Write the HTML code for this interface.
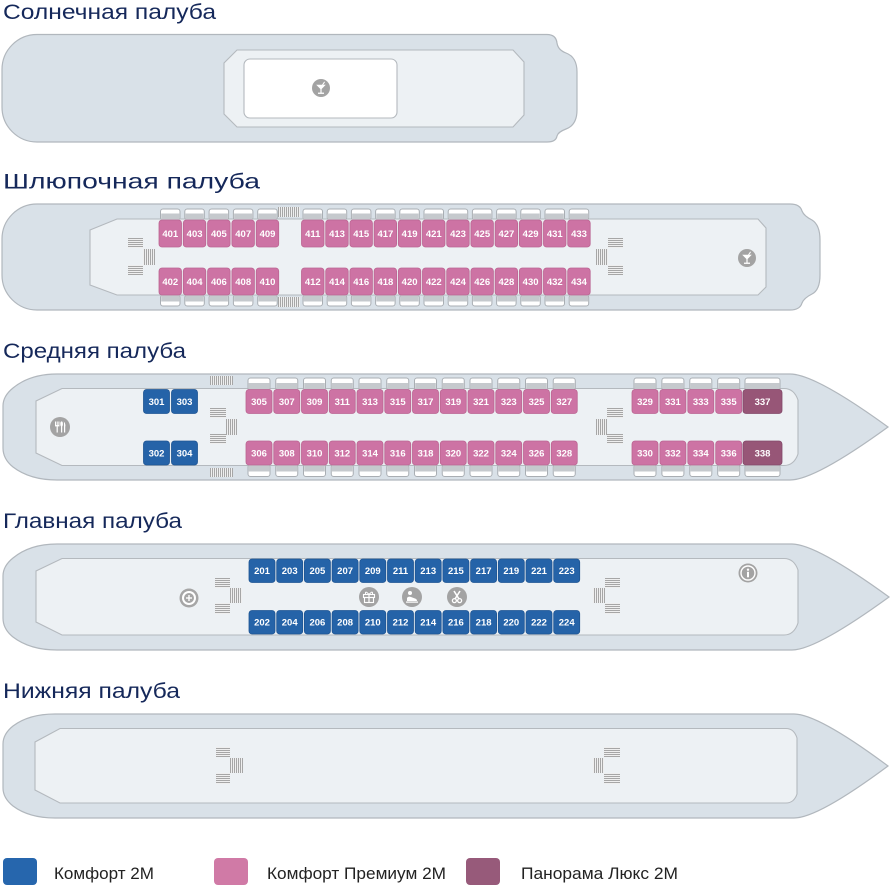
<!DOCTYPE html>
<html><head><meta charset="utf-8">
<style>
html,body{margin:0;padding:0;background:#fff;}
svg{display:block;}
.t{font-family:"Liberation Sans","DejaVu Sans",sans-serif;font-size:21px;fill:#15285a;}
.c{font-family:"Liberation Sans","DejaVu Sans",sans-serif;font-size:9.5px;font-weight:bold;fill:#fff;text-anchor:middle;}
.lg{font-family:"Liberation Sans","DejaVu Sans",sans-serif;font-size:16.5px;fill:#222;}
.hull{fill:#d9e1e8;stroke:#b1b7bd;stroke-width:1.2;}
.inner{fill:#edf1f4;stroke:#b4b9be;stroke-width:1.1;}
.b{fill:#2563a8;stroke:#1f5593;stroke-width:.8;}
.p{fill:#cd73a4;stroke:#bb6592;stroke-width:.8;}
.d{fill:#975677;stroke:#82496a;stroke-width:.8;}
.hs{fill:url(#hs);}
.vs{fill:url(#vs);}
</style></head>
<body>
<svg width="890" height="888" viewBox="0 0 890 888" xmlns="http://www.w3.org/2000/svg">
<defs>
<pattern id="hs" patternUnits="userSpaceOnUse" width="4" height="2"><rect width="4" height="2" fill="#efefef"/><rect width="4" height="1" fill="#a6a6a6"/></pattern>
<pattern id="vs" patternUnits="userSpaceOnUse" width="2" height="4"><rect width="2" height="4" fill="#efefef"/><rect width="1" height="4" fill="#a6a6a6"/></pattern>
<g id="bt1"><rect x="0.5" y="0.5" width="19.5" height="11" rx="2.5" fill="#fff" stroke="#a9aeb3"/><rect x="1.2" y="5" width="18.1" height="6.5" fill="#c5c9cd"/></g>
<g id="bb1"><rect x="0.5" y="0.5" width="19.5" height="11" rx="2.5" fill="#fff" stroke="#a9aeb3"/><rect x="1.2" y="0.5" width="18.1" height="6.5" fill="#c5c9cd"/></g>
<g id="bt2"><rect x="0.5" y="0.5" width="22" height="12" rx="2.5" fill="#fff" stroke="#a9aeb3"/><rect x="1.2" y="5.5" width="20.6" height="7" fill="#c5c9cd"/></g>
<g id="bb2"><rect x="0.5" y="0.5" width="22" height="12" rx="2.5" fill="#fff" stroke="#a9aeb3"/><rect x="1.2" y="0.5" width="20.6" height="7" fill="#c5c9cd"/></g>
<g id="bt3"><rect x="0.5" y="0.5" width="35" height="12" rx="2.5" fill="#fff" stroke="#a9aeb3"/><rect x="1.2" y="5.5" width="33.6" height="7" fill="#c5c9cd"/></g>
<g id="bb3"><rect x="0.5" y="0.5" width="35" height="12" rx="2.5" fill="#fff" stroke="#a9aeb3"/><rect x="1.2" y="0.5" width="33.6" height="7" fill="#c5c9cd"/></g>
<g id="cocktail"><circle r="9" fill="#a3a3a3"/><path d="M-4.8,-3.2 H4.8 L0,1.6 Z" fill="#fff"/><rect x="-0.6" y="1" width="1.2" height="4" fill="#fff"/><rect x="-3" y="4.6" width="6" height="1.3" fill="#fff"/><line x1="0.8" y1="-2" x2="3.6" y2="-6.2" stroke="#fff" stroke-width="1"/></g>
</defs>

<!-- ===== Солнечная палуба ===== -->
<text class="t" x="3" y="19" textLength="213" lengthAdjust="spacingAndGlyphs">Солнечная палуба</text>
<path class="hull" d="M37,34.5 H547 Q556,34.5 557,43 Q558,50 566,53 Q577,57 577,72 V110 Q577,125 566,129 Q558,132 557,136 Q556,142 547,142 H37 A35,35 0 0 1 2,107 V69.5 A35,35 0 0 1 37,34.5 Z"/>
<path class="inner" d="M237,50 H513 L524,62 V115 L513,127 H237 L224,114 V63 Z"/>
<rect x="244" y="59" width="153" height="59" rx="6" fill="#fff" stroke="#b4b9be" stroke-width="1.1"/>
<use href="#cocktail" x="321" y="88"/>

<!-- ===== Шлюпочная палуба ===== -->
<text class="t" x="3" y="188.5" textLength="257" lengthAdjust="spacingAndGlyphs">Шлюпочная палуба</text>
<path class="hull" d="M37,204 H790 Q800,204 802,211 Q804,216 812,220 Q820,225 820,240 V275 Q820,290 812,294 Q804,298 802,303 Q800,310 790,310 H37 A35,35 0 0 1 2,275 V239 A35,35 0 0 1 37,204 Z"/>
<path class="inner" d="M117,219 H758 L766,228 V287 L758,295 H117 L90,285 V230 Z"/>
<rect class="vs" x="278" y="207" width="22" height="10"/>
<rect class="vs" x="278" y="297" width="22" height="10"/>
<use href="#bt1" x="160" y="208.5"/><use href="#bt1" x="184.3" y="208.5"/><use href="#bt1" x="208.6" y="208.5"/><use href="#bt1" x="232.9" y="208.5"/><use href="#bt1" x="257.2" y="208.5"/>
<use href="#bt1" x="302.5" y="208.5"/><use href="#bt1" x="326.7" y="208.5"/><use href="#bt1" x="350.9" y="208.5"/><use href="#bt1" x="375.1" y="208.5"/><use href="#bt1" x="399.3" y="208.5"/><use href="#bt1" x="423.5" y="208.5"/><use href="#bt1" x="447.7" y="208.5"/><use href="#bt1" x="471.9" y="208.5"/><use href="#bt1" x="496.1" y="208.5"/><use href="#bt1" x="520.3" y="208.5"/><use href="#bt1" x="544.5" y="208.5"/><use href="#bt1" x="568.7" y="208.5"/>
<use href="#bb1" x="160" y="294.5"/><use href="#bb1" x="184.3" y="294.5"/><use href="#bb1" x="208.6" y="294.5"/><use href="#bb1" x="232.9" y="294.5"/><use href="#bb1" x="257.2" y="294.5"/>
<use href="#bb1" x="302.5" y="294.5"/><use href="#bb1" x="326.7" y="294.5"/><use href="#bb1" x="350.9" y="294.5"/><use href="#bb1" x="375.1" y="294.5"/><use href="#bb1" x="399.3" y="294.5"/><use href="#bb1" x="423.5" y="294.5"/><use href="#bb1" x="447.7" y="294.5"/><use href="#bb1" x="471.9" y="294.5"/><use href="#bb1" x="496.1" y="294.5"/><use href="#bb1" x="520.3" y="294.5"/><use href="#bb1" x="544.5" y="294.5"/><use href="#bb1" x="568.7" y="294.5"/>
<g>
<rect class="p" x="159" y="220" width="22.5" height="27" rx="3"/><rect class="p" x="183.3" y="220" width="22.5" height="27" rx="3"/><rect class="p" x="207.6" y="220" width="22.5" height="27" rx="3"/><rect class="p" x="231.9" y="220" width="22.5" height="27" rx="3"/><rect class="p" x="256.2" y="220" width="22.5" height="27" rx="3"/>
<rect class="p" x="301.5" y="220" width="22.5" height="27" rx="3"/><rect class="p" x="325.7" y="220" width="22.5" height="27" rx="3"/><rect class="p" x="349.9" y="220" width="22.5" height="27" rx="3"/><rect class="p" x="374.1" y="220" width="22.5" height="27" rx="3"/><rect class="p" x="398.3" y="220" width="22.5" height="27" rx="3"/><rect class="p" x="422.5" y="220" width="22.5" height="27" rx="3"/><rect class="p" x="446.7" y="220" width="22.5" height="27" rx="3"/><rect class="p" x="470.9" y="220" width="22.5" height="27" rx="3"/><rect class="p" x="495.1" y="220" width="22.5" height="27" rx="3"/><rect class="p" x="519.3" y="220" width="22.5" height="27" rx="3"/><rect class="p" x="543.5" y="220" width="22.5" height="27" rx="3"/><rect class="p" x="567.7" y="220" width="22.5" height="27" rx="3"/>
</g>
<g>
<rect class="p" x="159" y="268" width="22.5" height="27" rx="3"/><rect class="p" x="183.3" y="268" width="22.5" height="27" rx="3"/><rect class="p" x="207.6" y="268" width="22.5" height="27" rx="3"/><rect class="p" x="231.9" y="268" width="22.5" height="27" rx="3"/><rect class="p" x="256.2" y="268" width="22.5" height="27" rx="3"/>
<rect class="p" x="301.5" y="268" width="22.5" height="27" rx="3"/><rect class="p" x="325.7" y="268" width="22.5" height="27" rx="3"/><rect class="p" x="349.9" y="268" width="22.5" height="27" rx="3"/><rect class="p" x="374.1" y="268" width="22.5" height="27" rx="3"/><rect class="p" x="398.3" y="268" width="22.5" height="27" rx="3"/><rect class="p" x="422.5" y="268" width="22.5" height="27" rx="3"/><rect class="p" x="446.7" y="268" width="22.5" height="27" rx="3"/><rect class="p" x="470.9" y="268" width="22.5" height="27" rx="3"/><rect class="p" x="495.1" y="268" width="22.5" height="27" rx="3"/><rect class="p" x="519.3" y="268" width="22.5" height="27" rx="3"/><rect class="p" x="543.5" y="268" width="22.5" height="27" rx="3"/><rect class="p" x="567.7" y="268" width="22.5" height="27" rx="3"/>
</g>
<g class="c">
<text x="170.3" y="237">401</text><text x="194.6" y="237">403</text><text x="218.9" y="237">405</text><text x="243.2" y="237">407</text><text x="267.5" y="237">409</text>
<text x="312.8" y="237">411</text><text x="337" y="237">413</text><text x="361.2" y="237">415</text><text x="385.4" y="237">417</text><text x="409.6" y="237">419</text><text x="433.8" y="237">421</text><text x="458" y="237">423</text><text x="482.2" y="237">425</text><text x="506.4" y="237">427</text><text x="530.6" y="237">429</text><text x="554.8" y="237">431</text><text x="579" y="237">433</text>
<text x="170.3" y="285">402</text><text x="194.6" y="285">404</text><text x="218.9" y="285">406</text><text x="243.2" y="285">408</text><text x="267.5" y="285">410</text>
<text x="312.8" y="285">412</text><text x="337" y="285">414</text><text x="361.2" y="285">416</text><text x="385.4" y="285">418</text><text x="409.6" y="285">420</text><text x="433.8" y="285">422</text><text x="458" y="285">424</text><text x="482.2" y="285">426</text><text x="506.4" y="285">428</text><text x="530.6" y="285">430</text><text x="554.8" y="285">432</text><text x="579" y="285">434</text>
</g>
<rect class="hs" x="128" y="238" width="15" height="10"/><rect class="vs" x="143" y="249" width="12" height="16"/><rect class="hs" x="128" y="265" width="15" height="10"/>
<rect class="hs" x="608" y="238" width="15" height="10"/><rect class="vs" x="596" y="249" width="12" height="16"/><rect class="hs" x="608" y="265" width="15" height="10"/>
<use href="#cocktail" x="747" y="258"/>

<!-- ===== Средняя палуба ===== -->
<text class="t" x="3" y="358" textLength="183" lengthAdjust="spacingAndGlyphs">Средняя палуба</text>
<path class="hull" d="M57,374 H790 Q815,374 888,427 Q815,480 790,480 H57 Q30,480 13,467 Q3,459 3,448 V406 Q3,396 13,388 Q30,374 57,374 Z"/>
<path class="inner" d="M62,388.5 H784 Q794,388.5 798,400 V454 Q794,465.5 784,465.5 H62 L36,453 V401 Z"/>
<rect class="vs" x="210" y="376" width="23" height="9"/>
<rect class="vs" x="210" y="468" width="23" height="9"/>
<use href="#bt2" x="247.5" y="377.5"/><use href="#bt2" x="275.25" y="377.5"/><use href="#bt2" x="303" y="377.5"/><use href="#bt2" x="330.75" y="377.5"/><use href="#bt2" x="358.5" y="377.5"/><use href="#bt2" x="386.25" y="377.5"/><use href="#bt2" x="414" y="377.5"/><use href="#bt2" x="441.75" y="377.5"/><use href="#bt2" x="469.5" y="377.5"/><use href="#bt2" x="497.25" y="377.5"/><use href="#bt2" x="525" y="377.5"/><use href="#bt2" x="552.75" y="377.5"/>
<use href="#bt2" x="633.5" y="377.5"/><use href="#bt2" x="661.4" y="377.5"/><use href="#bt2" x="689.3" y="377.5"/><use href="#bt2" x="717.2" y="377.5"/><use href="#bt3" x="744.5" y="377.5"/>
<use href="#bb2" x="247.5" y="464"/><use href="#bb2" x="275.25" y="464"/><use href="#bb2" x="303" y="464"/><use href="#bb2" x="330.75" y="464"/><use href="#bb2" x="358.5" y="464"/><use href="#bb2" x="386.25" y="464"/><use href="#bb2" x="414" y="464"/><use href="#bb2" x="441.75" y="464"/><use href="#bb2" x="469.5" y="464"/><use href="#bb2" x="497.25" y="464"/><use href="#bb2" x="525" y="464"/><use href="#bb2" x="552.75" y="464"/>
<use href="#bb2" x="633.5" y="464"/><use href="#bb2" x="661.4" y="464"/><use href="#bb2" x="689.3" y="464"/><use href="#bb2" x="717.2" y="464"/><use href="#bb3" x="744.5" y="464"/>
<rect class="b" x="143.5" y="389.5" width="26" height="24" rx="3"/><rect class="b" x="171.5" y="389.5" width="26" height="24" rx="3"/>
<rect class="b" x="143.5" y="441" width="26" height="24" rx="3"/><rect class="b" x="171.5" y="441" width="26" height="24" rx="3"/>
<g>
<rect class="p" x="246" y="389.5" width="26" height="24" rx="3"/><rect class="p" x="273.75" y="389.5" width="26" height="24" rx="3"/><rect class="p" x="301.5" y="389.5" width="26" height="24" rx="3"/><rect class="p" x="329.25" y="389.5" width="26" height="24" rx="3"/><rect class="p" x="357" y="389.5" width="26" height="24" rx="3"/><rect class="p" x="384.75" y="389.5" width="26" height="24" rx="3"/><rect class="p" x="412.5" y="389.5" width="26" height="24" rx="3"/><rect class="p" x="440.25" y="389.5" width="26" height="24" rx="3"/><rect class="p" x="468" y="389.5" width="26" height="24" rx="3"/><rect class="p" x="495.75" y="389.5" width="26" height="24" rx="3"/><rect class="p" x="523.5" y="389.5" width="26" height="24" rx="3"/><rect class="p" x="551.25" y="389.5" width="26" height="24" rx="3"/>
<rect class="p" x="632" y="389.5" width="26" height="24" rx="3"/><rect class="p" x="659.9" y="389.5" width="26" height="24" rx="3"/><rect class="p" x="687.8" y="389.5" width="26" height="24" rx="3"/><rect class="p" x="715.7" y="389.5" width="26" height="24" rx="3"/>
<rect class="d" x="743" y="389.5" width="39" height="24" rx="3"/>
</g>
<g>
<rect class="p" x="246" y="441" width="26" height="24" rx="3"/><rect class="p" x="273.75" y="441" width="26" height="24" rx="3"/><rect class="p" x="301.5" y="441" width="26" height="24" rx="3"/><rect class="p" x="329.25" y="441" width="26" height="24" rx="3"/><rect class="p" x="357" y="441" width="26" height="24" rx="3"/><rect class="p" x="384.75" y="441" width="26" height="24" rx="3"/><rect class="p" x="412.5" y="441" width="26" height="24" rx="3"/><rect class="p" x="440.25" y="441" width="26" height="24" rx="3"/><rect class="p" x="468" y="441" width="26" height="24" rx="3"/><rect class="p" x="495.75" y="441" width="26" height="24" rx="3"/><rect class="p" x="523.5" y="441" width="26" height="24" rx="3"/><rect class="p" x="551.25" y="441" width="26" height="24" rx="3"/>
<rect class="p" x="632" y="441" width="26" height="24" rx="3"/><rect class="p" x="659.9" y="441" width="26" height="24" rx="3"/><rect class="p" x="687.8" y="441" width="26" height="24" rx="3"/><rect class="p" x="715.7" y="441" width="26" height="24" rx="3"/>
<rect class="d" x="743" y="441" width="39" height="24" rx="3"/>
</g>
<g class="c">
<text x="156.5" y="405">301</text><text x="184.5" y="405">303</text>
<text x="259" y="405">305</text><text x="286.75" y="405">307</text><text x="314.5" y="405">309</text><text x="342.25" y="405">311</text><text x="370" y="405">313</text><text x="397.75" y="405">315</text><text x="425.5" y="405">317</text><text x="453.25" y="405">319</text><text x="481" y="405">321</text><text x="508.75" y="405">323</text><text x="536.5" y="405">325</text><text x="564.25" y="405">327</text>
<text x="645" y="405">329</text><text x="672.9" y="405">331</text><text x="700.8" y="405">333</text><text x="728.7" y="405">335</text><text x="762.5" y="405">337</text>
<text x="156.5" y="456.5">302</text><text x="184.5" y="456.5">304</text>
<text x="259" y="456.5">306</text><text x="286.75" y="456.5">308</text><text x="314.5" y="456.5">310</text><text x="342.25" y="456.5">312</text><text x="370" y="456.5">314</text><text x="397.75" y="456.5">316</text><text x="425.5" y="456.5">318</text><text x="453.25" y="456.5">320</text><text x="481" y="456.5">322</text><text x="508.75" y="456.5">324</text><text x="536.5" y="456.5">326</text><text x="564.25" y="456.5">328</text>
<text x="645" y="456.5">330</text><text x="672.9" y="456.5">332</text><text x="700.8" y="456.5">334</text><text x="728.7" y="456.5">336</text><text x="762.5" y="456.5">338</text>
</g>
<rect class="hs" x="210" y="408" width="16" height="10"/><rect class="vs" x="226" y="419" width="11" height="16"/><rect class="hs" x="210" y="434" width="16" height="10"/>
<rect class="hs" x="607" y="408" width="16" height="10"/><rect class="vs" x="596" y="419" width="11" height="16"/><rect class="hs" x="607" y="434" width="16" height="10"/>
<g transform="translate(60,427)">
<circle r="10" fill="#a3a3a3"/>
<rect x="-5" y="-5.5" width="1" height="4" fill="#fff"/><rect x="-3.3" y="-5.5" width="1" height="4" fill="#fff"/><rect x="-1.6" y="-5.5" width="1" height="4" fill="#fff"/><rect x="-5" y="-2" width="4.4" height="1.4" fill="#fff"/><rect x="-3.4" y="-1" width="1.2" height="6.5" fill="#fff"/>
<ellipse cx="1.6" cy="-3" rx="1.3" ry="2.6" fill="#fff"/><rect x="1" y="-1" width="1.2" height="6.5" fill="#fff"/>
<path d="M3.8,-5.5 Q6,-3 5.2,0 L5.2,5.5 H4 V-5.5 Z" fill="#fff"/>
</g>

<!-- ===== Главная палуба ===== -->
<text class="t" x="3" y="528" textLength="179" lengthAdjust="spacingAndGlyphs">Главная палуба</text>
<path class="hull" d="M57,544 H792 Q816,544 889,597 Q816,650 792,650 H57 Q30,650 13,637 Q3,629 3,618 V576 Q3,566 13,558 Q30,544 57,544 Z"/>
<path class="inner" d="M62,558.5 H784 Q794,558.5 798,570 V623 Q794,635 784,635 H62 L36,622 V571 Z"/>
<g>
<rect class="b" x="249" y="559" width="26" height="23.5" rx="3"/><rect class="b" x="276.7" y="559" width="26" height="23.5" rx="3"/><rect class="b" x="304.4" y="559" width="26" height="23.5" rx="3"/><rect class="b" x="332.1" y="559" width="26" height="23.5" rx="3"/><rect class="b" x="359.8" y="559" width="26" height="23.5" rx="3"/><rect class="b" x="387.5" y="559" width="26" height="23.5" rx="3"/><rect class="b" x="415.2" y="559" width="26" height="23.5" rx="3"/><rect class="b" x="442.9" y="559" width="26" height="23.5" rx="3"/><rect class="b" x="470.6" y="559" width="26" height="23.5" rx="3"/><rect class="b" x="498.3" y="559" width="26" height="23.5" rx="3"/><rect class="b" x="526" y="559" width="26" height="23.5" rx="3"/><rect class="b" x="553.7" y="559" width="26" height="23.5" rx="3"/>
<rect class="b" x="249" y="610.5" width="26" height="23.5" rx="3"/><rect class="b" x="276.7" y="610.5" width="26" height="23.5" rx="3"/><rect class="b" x="304.4" y="610.5" width="26" height="23.5" rx="3"/><rect class="b" x="332.1" y="610.5" width="26" height="23.5" rx="3"/><rect class="b" x="359.8" y="610.5" width="26" height="23.5" rx="3"/><rect class="b" x="387.5" y="610.5" width="26" height="23.5" rx="3"/><rect class="b" x="415.2" y="610.5" width="26" height="23.5" rx="3"/><rect class="b" x="442.9" y="610.5" width="26" height="23.5" rx="3"/><rect class="b" x="470.6" y="610.5" width="26" height="23.5" rx="3"/><rect class="b" x="498.3" y="610.5" width="26" height="23.5" rx="3"/><rect class="b" x="526" y="610.5" width="26" height="23.5" rx="3"/><rect class="b" x="553.7" y="610.5" width="26" height="23.5" rx="3"/>
</g>
<g class="c">
<text x="262" y="574">201</text><text x="289.7" y="574">203</text><text x="317.4" y="574">205</text><text x="345.1" y="574">207</text><text x="372.8" y="574">209</text><text x="400.5" y="574">211</text><text x="428.2" y="574">213</text><text x="455.9" y="574">215</text><text x="483.6" y="574">217</text><text x="511.3" y="574">219</text><text x="539" y="574">221</text><text x="566.7" y="574">223</text>
<text x="262" y="625.5">202</text><text x="289.7" y="625.5">204</text><text x="317.4" y="625.5">206</text><text x="345.1" y="625.5">208</text><text x="372.8" y="625.5">210</text><text x="400.5" y="625.5">212</text><text x="428.2" y="625.5">214</text><text x="455.9" y="625.5">216</text><text x="483.6" y="625.5">218</text><text x="511.3" y="625.5">220</text><text x="539" y="625.5">222</text><text x="566.7" y="625.5">224</text>
</g>
<rect class="hs" x="215" y="578" width="15" height="10"/><rect class="vs" x="230" y="588" width="12" height="15"/><rect class="hs" x="215" y="603" width="15" height="11"/>
<rect class="hs" x="605" y="578" width="15" height="10"/><rect class="vs" x="593" y="588" width="12" height="15"/><rect class="hs" x="605" y="603" width="15" height="11"/>
<g transform="translate(189,598)">
<circle r="9.5" fill="#a6a6a6"/><circle r="7" fill="#fff"/><circle r="5" fill="#a6a6a6"/>
<rect x="-0.7" y="-3" width="1.4" height="6" fill="#fff"/><rect x="-3" y="-0.7" width="6" height="1.4" fill="#fff"/>
</g>
<g transform="translate(369,597)">
<circle r="10" fill="#a3a3a3"/>
<rect x="-5.5" y="-2.5" width="11" height="3" fill="none" stroke="#fff" stroke-width="1.1"/>
<rect x="-4.5" y="0.5" width="9" height="5" fill="none" stroke="#fff" stroke-width="1.1"/>
<rect x="-0.6" y="-2.5" width="1.2" height="8" fill="#fff"/>
<path d="M0,-2.5 Q-4,-7 -3.5,-3 M0,-2.5 Q4,-7 3.5,-3" fill="none" stroke="#fff" stroke-width="1"/>
</g>
<g transform="translate(412,597)">
<circle r="10" fill="#a3a3a3"/>
<circle cx="-2" cy="-4" r="2" fill="#fff"/>
<path d="M-5,4 L-5,1 Q-4,-1 -1,0 L3,1.5 Q5,2 5,4 Z" fill="#fff"/>
<rect x="-6" y="4.5" width="12" height="1.2" fill="#fff"/>
</g>
<g transform="translate(457,597)">
<circle r="10" fill="#a3a3a3"/>
<line x1="-3" y1="-6" x2="2" y2="2" stroke="#fff" stroke-width="1.6"/>
<line x1="3" y1="-6" x2="-2" y2="2" stroke="#fff" stroke-width="1.6"/>
<circle cx="-2.6" cy="3.6" r="2" fill="none" stroke="#fff" stroke-width="1.3"/>
<circle cx="2.6" cy="3.6" r="2" fill="none" stroke="#fff" stroke-width="1.3"/>
</g>
<g transform="translate(748,573)">
<circle r="9.5" fill="#a3a3a3"/><circle r="7" fill="none" stroke="#fff" stroke-width="1.4"/>
<circle cy="-3.3" r="1.2" fill="#fff"/><rect x="-1" y="-1.2" width="2" height="5.5" fill="#fff"/>
</g>

<!-- ===== Нижняя палуба ===== -->
<text class="t" x="3" y="698" textLength="177" lengthAdjust="spacingAndGlyphs">Нижняя палуба</text>
<path class="hull" d="M55,714 H794 Q818,714 888,766 Q818,818 794,818 H55 Q29,818 13,806 Q3,798 3,788 V744 Q3,734 13,726 Q29,714 55,714 Z"/>
<path class="inner" d="M60,728.5 H786 Q794,728.5 797,738 V794 Q794,803 786,803 H60 L35,790 V742 Z"/>
<rect class="hs" x="216" y="747" width="14" height="10"/><rect class="vs" x="230" y="758" width="13" height="15"/><rect class="hs" x="216" y="773" width="14" height="11"/>
<rect class="hs" x="604" y="747" width="16" height="10"/><rect class="vs" x="593" y="758" width="11" height="15"/><rect class="hs" x="604" y="773" width="16" height="11"/>

<!-- ===== Legend ===== -->
<rect x="3" y="858" width="34" height="27" rx="4" fill="#2666ad"/>
<text class="lg" x="54" y="879" textLength="100" lengthAdjust="spacingAndGlyphs">Комфорт 2М</text>
<rect x="214" y="858" width="34" height="27" rx="4" fill="#d07aa6"/>
<text class="lg" x="267" y="879" textLength="179" lengthAdjust="spacingAndGlyphs">Комфорт Премиум 2М</text>
<rect x="466" y="858" width="34" height="27" rx="4" fill="#975a7a"/>
<text class="lg" x="521" y="879" textLength="157" lengthAdjust="spacingAndGlyphs">Панорама Люкс 2М</text>
</svg>
</body></html>
